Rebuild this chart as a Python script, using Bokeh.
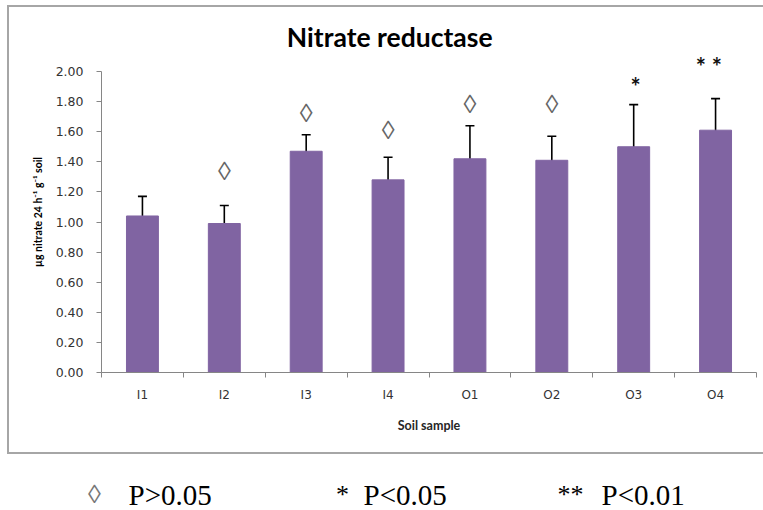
from bokeh.plotting import figure
from bokeh.models import (ColumnDataSource, Whisker, LabelSet, FixedTicker, Range1d, TeeHead)
from bokeh.layouts import column
from bokeh.core.properties import value
from bokeh.embed import file_html
from bokeh.resources import INLINE

# ---------------- data ----------------
categories = ["I1", "I2", "I3", "I4", "O1", "O2", "O3", "O4"]
means = [1.04, 0.99, 1.47, 1.28, 1.42, 1.41, 1.50, 1.61]
err_upper = [1.17, 1.11, 1.58, 1.43, 1.64, 1.57, 1.78, 1.82]
err_lower = [0.91, 0.88, 1.35, 1.13, 1.20, 1.25, 1.22, 1.39]
sig_marks = ["", "\u25CA", "\u25CA", "\u25CA", "\u25CA", "\u25CA", "*", "*    *"]
sig_y = [0.0, 1.335, 1.72, 1.61, 1.78, 1.78, 1.92, 2.05]
y_ticks = [0.0, 0.2, 0.4, 0.6, 0.8, 1.0, 1.2, 1.4, 1.6, 1.8, 2.0]
y_tick_labels = ["0.00", "0.20", "0.40", "0.60", "0.80", "1.00",
                 "1.20", "1.40", "1.60", "1.80", "2.00"]
title_text = "Nitrate reductase"
x_label = "Soil sample"
y_label = "\u00B5g nitrate 24 h\u207B\u00B9 g\u207B\u00B9 soil"
legend_symbols = ["\u25CA", "*", "**"]
legend_texts = ["P>0.05", "P<0.05", "P<0.01"]

BOX = "2px solid #a6a6a6"
W_IN = 754
MB_L, MB_R = 92, 7
N = len(categories)

# ---------------- title strip ----------------
H_T = 44
tf = figure(width=W_IN, height=H_T, output_backend="svg", toolbar_location=None,
            x_range=Range1d(0, N), y_range=Range1d(H_T, 0),
            min_border_left=MB_L, min_border_right=MB_R, min_border_top=0,
            min_border_bottom=0, x_axis_type=None, y_axis_type=None,
            background_fill_color="white", border_fill_color="white")
tf.outline_line_color = None
tf.grid.grid_line_color = None
tf.text(x=[3.52], y=[29], text=[title_text], text_font=value("Lato"),
        text_font_size="26.5px", text_font_style="bold", text_color="black",
        text_align="center", text_baseline="middle", text_line_height=1.0)

# ---------------- main chart ----------------
x_centers = [i + 0.5 for i in range(N)]
src = ColumnDataSource(dict(x=x_centers, top=means, upper=err_upper, lower=err_lower))

FRAME_H = 321
H_MAIN = FRAME_H + 80
p = figure(width=W_IN, height=H_MAIN, output_backend="svg", toolbar_location=None,
           x_range=Range1d(0, N), y_range=Range1d(0, FRAME_H / 150.5),
           min_border_left=MB_L, min_border_right=MB_R, min_border_top=0,
           min_border_bottom=80,
           background_fill_color="white", border_fill_color="white")
p.outline_line_color = None
p.xgrid.grid_line_color = None
p.ygrid.grid_line_color = None

p.vbar(x="x", top="top", width=0.39, bottom=0, source=src,
       fill_color="#8064A2", line_color="#8064A2")

wh = Whisker(base="x", upper="upper", lower="lower", source=src,
             line_color="black", line_width=1.6,
             upper_head=TeeHead(size=9, line_color="black", line_width=1.6),
             lower_head=TeeHead(size=9, line_color="black", line_width=1.6))
p.add_layout(wh)

# significance marks
loz_idx = [i for i, m in enumerate(sig_marks) if m == "\u25CA"]
star_idx = [i for i, m in enumerate(sig_marks) if m.startswith("*")]
loz_src = ColumnDataSource(dict(x=[x_centers[i] for i in loz_idx],
                                y=[sig_y[i] for i in loz_idx],
                                t=[sig_marks[i] for i in loz_idx]))
star_src = ColumnDataSource(dict(x=[x_centers[i] for i in star_idx],
                                 y=[sig_y[i] for i in star_idx],
                                 t=[sig_marks[i] for i in star_idx]))
p.add_layout(LabelSet(x="x", y="y", text="t", source=loz_src,
                      text_font=value("Liberation Serif"), text_font_size="26px",
                      text_color="#666666", text_align="center", text_baseline="middle"))
p.add_layout(LabelSet(x="x", y="y", text="t", source=star_src, y_offset=-3, x_offset=2,
                      text_font=value("Lato"), text_font_size="24px", text_font_style="bold",
                      text_color="#111111", text_align="center", text_baseline="middle",
                      text_line_height=1.0))

# x axis
xa = p.xaxis[0]
xa.ticker = FixedTicker(ticks=x_centers, minor_ticks=list(range(N + 1)))
xa.major_label_overrides = {x_centers[i]: c for i, c in enumerate(categories)}
xa.major_tick_out = 0
xa.major_tick_in = 0
xa.minor_tick_out = 5
xa.minor_tick_in = 0
xa.minor_tick_line_color = "#868686"
xa.axis_line_color = "#868686"
xa.major_label_standoff = 10
xa.major_label_text_font = "DejaVu Sans"
xa.major_label_text_font_size = "12px"
xa.major_label_text_color = "#333333"
xa.axis_label = x_label
xa.axis_label_standoff = 13
xa.axis_label_text_font = "Lato"
xa.axis_label_text_font_size = "12.5px"
xa.axis_label_text_font_style = "bold"
xa.axis_label_text_color = "#262626"

# y axis
ya = p.yaxis[0]
ya.bounds = (0, 2.0)
ya.ticker = FixedTicker(ticks=y_ticks, minor_ticks=[])
ya.major_label_overrides = {t: l for t, l in zip(y_ticks, y_tick_labels)}
ya.major_tick_out = 5
ya.major_tick_in = 0
ya.major_tick_line_color = "#868686"
ya.axis_line_color = "#868686"
ya.major_label_standoff = 13
ya.major_label_text_font = "DejaVu Sans"
ya.major_label_text_font_size = "12.5px"
ya.major_label_text_color = "#333333"
ya.axis_label = y_label
ya.axis_label_standoff = 9
ya.axis_label_text_font = "Lato"
ya.axis_label_text_font_size = "10.5px"
ya.axis_label_text_font_style = "bold"
ya.axis_label_text_color = "black"

box = column(tf, p, spacing=0,
             styles={"border-left": BOX, "border-top": BOX, "border-bottom": BOX})
box.margin = (5, 0, 0, 7)

# ---------------- legend strip ----------------
W_LEG = 763
H_LEG = 56
lg = figure(width=W_LEG, height=H_LEG, output_backend="svg", toolbar_location=None,
            x_range=Range1d(0, W_LEG), y_range=Range1d(H_LEG, 0),
            min_border=0, x_axis_type=None, y_axis_type=None,
            background_fill_color="white", border_fill_color="white")
lg.outline_line_color = None
lg.grid.grid_line_color = None

sym_x = [94, 342, 570]
txt_x = [128, 363, 601]
base_y = 40
lg.text(x=sym_x, y=[base_y] * 3, text=legend_symbols, text_font=value("Liberation Serif"),
        text_font_size="26px", text_color=["#777777", "black", "black"],
        text_align="center", text_baseline="alphabetic")
lg.text(x=txt_x, y=[base_y] * 3, text=legend_texts, text_font=value("Liberation Serif"),
        text_font_size="29px", text_color="black",
        text_align="left", text_baseline="alphabetic")

layout = column(box, lg, spacing=0)
open("out.html", "w").write(file_html(layout, INLINE))
